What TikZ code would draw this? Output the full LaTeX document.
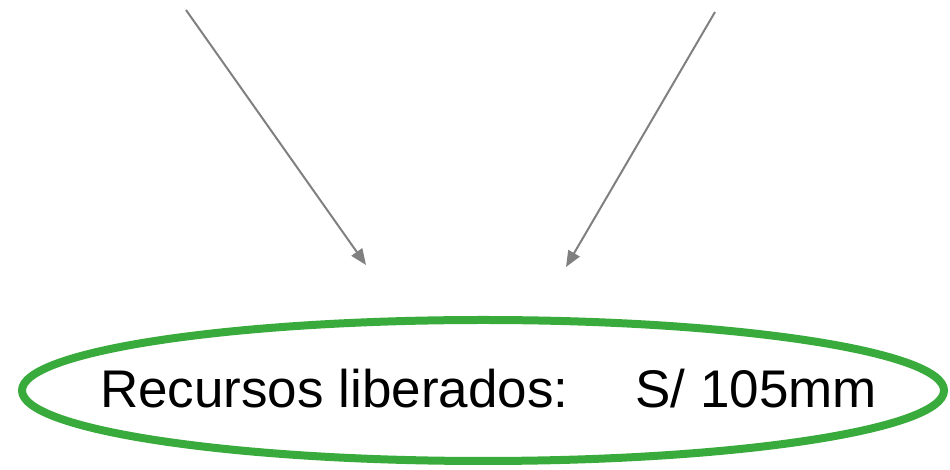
\documentclass[tikz,border=0pt]{standalone}
\usepackage{fontspec}
\setmainfont{Liberation Sans}
\usetikzlibrary{arrows.meta, shapes.geometric}
\definecolor{freedgreen}{RGB}{57,170,60}
\definecolor{linkgray}{RGB}{128,128,128}

\begin{document}
\begin{tikzpicture}[
    x=1pt, y=1pt, >={Triangle[length=16pt, width=13pt]}
  ]
  \useasboundingbox (0,0) rectangle (950,470);

  % incoming links
  \coordinate (srcL) at (186,460);
  \coordinate (srcR) at (715,458);
  \coordinate (tipL) at (366,205);
  \coordinate (tipR) at (566,203);

  % freed resources
  \node[draw=freedgreen, line width=8pt, ellipse, inner sep=0pt,
        minimum width=922pt, minimum height=141pt] (freed) at (483,79.5) {};
  \node[font=\fontsize{53}{60}\selectfont, anchor=base, inner sep=0pt]
    (freedtext) at (488.5,62) {Recursos liberados:\hspace{67pt}S/ 105mm};

  \draw[->, linkgray, line width=2pt] (srcL) -- (tipL);
  \draw[->, linkgray, line width=2pt] (srcR) -- (tipR);
\end{tikzpicture}
\end{document}
